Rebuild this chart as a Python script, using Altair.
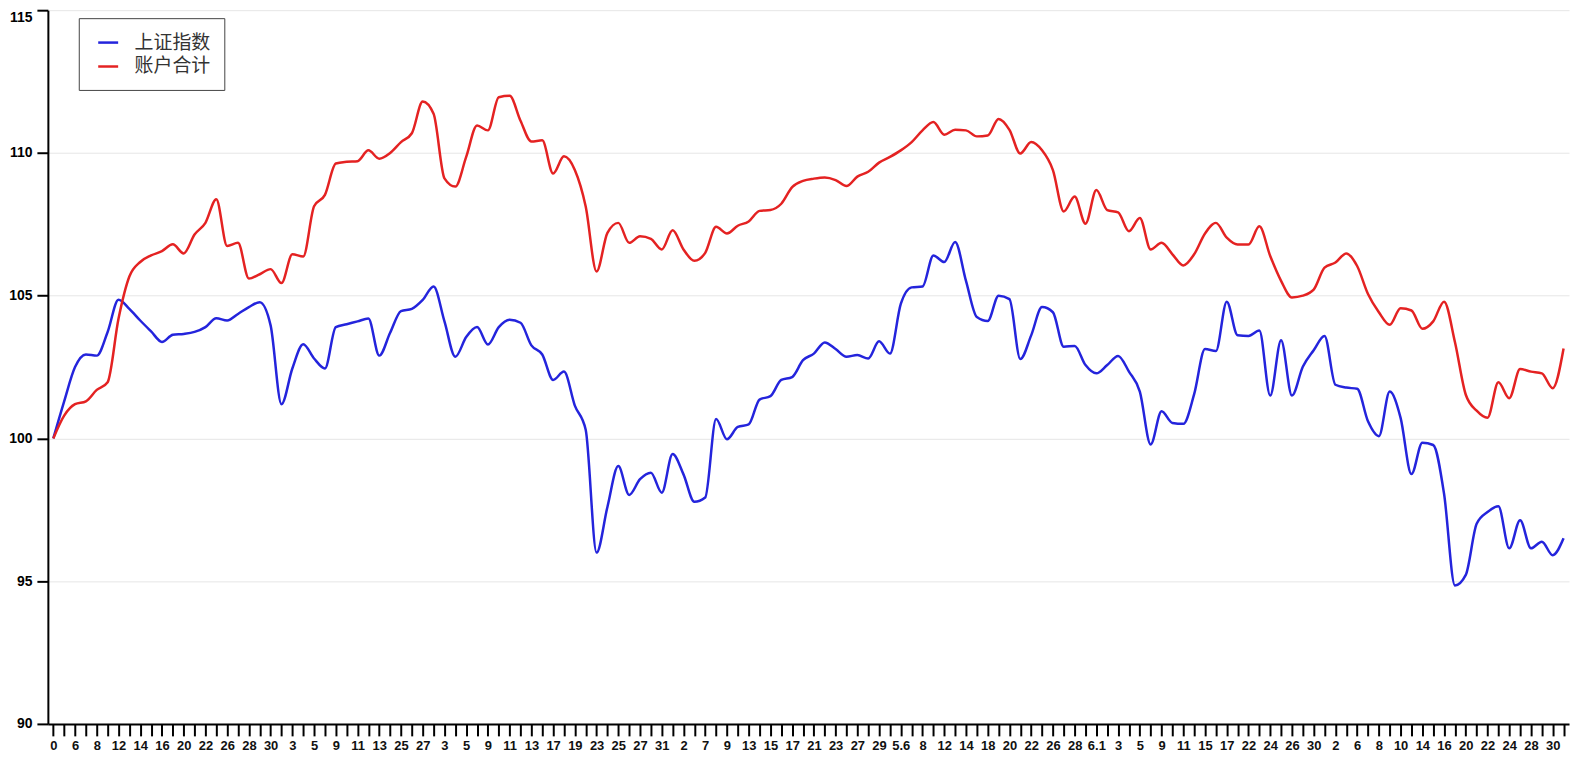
import json
import altair as alt
import pandas as pd

# x-axis tick labels (one for every other trading day)
x_labels = ["0", "6", "8", "12", "14", "16", "20", "22", "26", "28",
            "30", "3", "5", "9", "11", "13", "25", "27", "3", "5",
            "9", "11", "13", "17", "19", "23", "25", "27", "31", "2",
            "7", "9", "13", "15", "17", "21", "23", "27", "29", "5.6",
            "8", "12", "14", "18", "20", "22", "26", "28", "6.1", "3",
            "5", "9", "11", "15", "17", "22", "24", "26", "30", "2",
            "6", "8", "10", "14", "16", "20", "22", "24", "28", "30"]

series_names = ["上证指数", "账户合计"]
series_colors = ["#2424dc", "#e42222"]

sh_index = [
    100.0, 101.3, 102.5, 102.94, 102.9, 103.73, 104.86, 104.54, 104.13, 103.75,
    103.38, 103.63, 103.66, 103.73, 103.9, 104.21, 104.13, 104.36, 104.6, 104.77,
    103.96, 101.2, 102.45, 103.3, 102.8, 102.45, 103.9, 104.0, 104.1, 104.2,
    102.9, 103.7, 104.46, 104.54, 104.85, 105.32, 104.1, 102.86, 103.55, 103.9,
    103.29, 103.9, 104.16, 104.05, 103.26, 102.94, 102.05, 102.34, 101.15, 100.3,
    96.0, 97.6, 99.03, 98.02, 98.57, 98.8, 98.1, 99.45, 98.74, 97.78,
    97.93, 100.68, 99.97, 100.4, 100.49, 101.36, 101.48, 102.05, 102.15, 102.74,
    102.97, 103.36, 103.13, 102.86, 102.92, 102.8, 103.4, 102.97, 104.71, 105.29,
    105.32, 106.41, 106.18, 106.88, 105.52, 104.25, 104.11, 105.0, 104.88, 102.78,
    103.61, 104.6, 104.42, 103.21, 103.24, 102.57, 102.28, 102.57, 102.89, 102.34,
    101.64, 99.79, 100.95, 100.54, 100.51, 101.55, 103.13, 103.06, 104.79, 103.61,
    103.59, 103.78, 101.5, 103.44, 101.5, 102.51, 103.09, 103.59, 101.88, 101.78,
    101.74, 100.6, 100.08, 101.64, 100.72, 98.75, 99.85, 99.77, 98.06, 94.85,
    95.22, 97.01, 97.42, 97.62, 96.15, 97.13, 96.15, 96.38, 95.91, 96.5,
]

account_total = [
    100.0, 100.8, 101.2, 101.3, 101.7, 101.97, 104.19, 105.67, 106.18, 106.41,
    106.56, 106.8, 106.48, 107.14, 107.55, 108.38, 106.74, 106.85, 105.6, 105.75,
    105.93, 105.44, 106.45, 106.37, 108.13, 108.53, 109.63, 109.69, 109.71, 110.09,
    109.8, 110.0, 110.38, 110.69, 111.8, 111.37, 109.11, 108.82, 109.86, 110.96,
    110.79, 111.95, 112.0, 111.13, 110.4, 110.44, 109.28, 109.88, 109.4, 108.12,
    105.85, 107.2, 107.55, 106.85, 107.08, 106.99, 106.62, 107.29, 106.62, 106.22,
    106.5, 107.41, 107.18, 107.45, 107.6, 107.97, 108.0, 108.22, 108.8, 109.02,
    109.1, 109.14, 109.05, 108.84, 109.17, 109.34, 109.66, 109.86, 110.09, 110.38,
    110.79, 111.08, 110.64, 110.81, 110.79, 110.58, 110.61, 111.19, 110.81, 109.98,
    110.38, 110.09, 109.4, 107.95, 108.47, 107.52, 108.7, 108.0, 107.92, 107.26,
    107.72, 106.62, 106.85, 106.45, 106.06, 106.45, 107.18, 107.55, 107.03, 106.79,
    106.79, 107.43, 106.39, 105.52, 104.94, 105.0, 105.21, 105.98, 106.16, 106.48,
    106.04, 105.06, 104.42, 103.98, 104.56, 104.48, 103.84, 104.1, 104.79, 103.38,
    101.53, 100.97, 100.72, 101.97, 101.41, 102.43, 102.34, 102.28, 101.76, 103.15,
]

y_ticks = [90, 95, 100, 105, 110, 115]

n = len(sh_index)
idx = list(range(n))
df = pd.DataFrame({
    "idx": idx + idx,
    "value": sh_index + account_total,
    "series": [series_names[0]] * n + [series_names[1]] * n,
})

label_expr = ("datum.value % 2 === 0 ? "
              + json.dumps(x_labels, ensure_ascii=False)
              + "[datum.value / 2] : ''")

chart = alt.Chart(df).mark_line(interpolate="monotone", strokeWidth=2.5).encode(
    x=alt.X(
        "idx:Q",
        scale=alt.Scale(domain=[-0.5, n - 0.5], nice=False, zero=False),
        axis=alt.Axis(
            values=idx, labelExpr=label_expr, title=None, grid=False,
            labelOverlap=False, labelFlush=False,
            domainColor="black", domainWidth=2,
            tickColor="black", tickWidth=2, tickSize=12,
            labelFont="Liberation Sans", labelFontWeight="bold",
            labelFontSize=13, labelColor="#111", labelPadding=4,
        ),
    ),
    y=alt.Y(
        "value:Q",
        scale=alt.Scale(domain=[90, 115], nice=False, zero=False),
        axis=alt.Axis(
            values=y_ticks, title=None, grid=True,
            gridColor="#e6e6e6", gridWidth=1,
            domainColor="black", domainWidth=2,
            tickColor="black", tickWidth=2, tickSize=11,
            labelFont="Liberation Sans", labelFontWeight="bold",
            labelFontSize=14, labelColor="black", labelPadding=5,
            labelBaseline={"condition": {"test": "datum.value == 115", "value": "top"},
                           "value": "middle"},
        ),
    ),
    color=alt.Color(
        "series:N",
        scale=alt.Scale(domain=series_names, range=series_colors),
        legend=alt.Legend(
            title=None, orient="none", legendX=31, legendY=8,
            symbolType="stroke", symbolSize=400, symbolStrokeWidth=2.5,
            symbolOffset=5,
            labelFont="Noto Sans CJK SC", labelFontSize=19, labelColor="#333",
            labelExpr="datum.label + '  '",
            labelOffset=15, rowPadding=2, padding=13,
            strokeColor="#444", fillColor="white",
        ),
    ),
).properties(
    width=1526,
    height=716,
    padding={"left": 0, "top": 0, "right": 2, "bottom": 0},
    background="white",
).configure_view(strokeWidth=0)

chart.save("out.html", embed_options={"renderer": "svg", "actions": False})
